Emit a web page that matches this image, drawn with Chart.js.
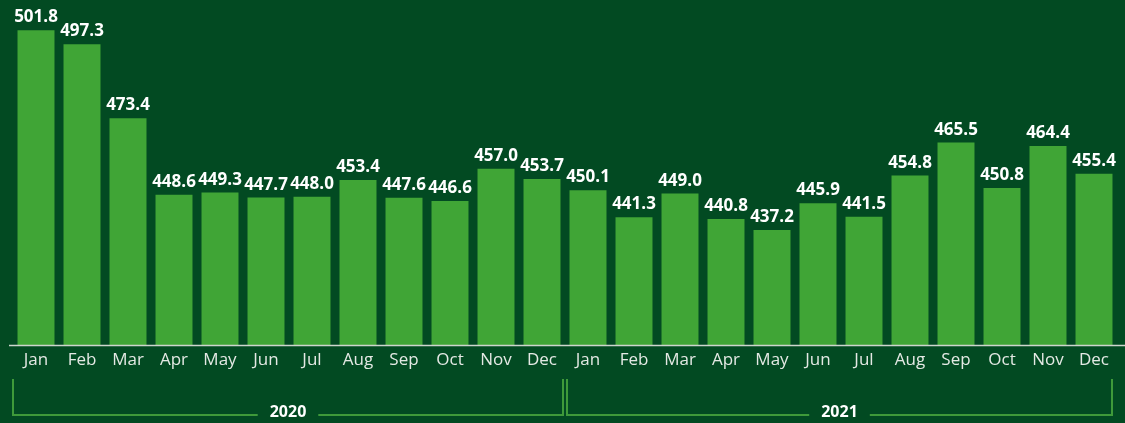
<!DOCTYPE html>
<html>
<head>
<meta charset="utf-8">
<script src="https://cdn.jsdelivr.net/npm/chart.js@4"></script>
<style>
  html, body { margin: 0; padding: 0; background: #024a22; }
  #wrap { width: 1125px; height: 423px; position: relative; }
</style>
</head>
<body>
<div id="wrap"><canvas id="cv"></canvas></div>
<script>
// chart data
var months = ["Jan", "Feb", "Mar", "Apr", "May", "Jun", "Jul", "Aug", "Sep", "Oct", "Nov", "Dec"];
var years = ["2020", "2021"];
var values2020 = [501.8, 497.3, 473.4, 448.6, 449.3, 447.7, 448.0, 453.4, 447.6, 446.6, 457.0, 453.7];
var values2021 = [450.1, 441.3, 449.0, 440.8, 437.2, 445.9, 441.5, 454.8, 465.5, 450.8, 464.4, 455.4];

var labels = months.concat(months);
var values = values2020.concat(values2021);

var barColor = "#40a536";
var bracketColor = "#3f9a3a";

// draws the axis line, value labels and the year brackets
var overlay = {
    id: "overlay",
    afterDatasetsDraw: function (chart) {
        var ctx = chart.ctx;
        var area = chart.chartArea;
        var xs = chart.scales.x;
        var step = xs.width / labels.length;

        ctx.save();
        // axis line
        ctx.strokeStyle = "#cdd5cd";
        ctx.lineWidth = 1.5;
        ctx.beginPath();
        ctx.moveTo(area.left - 4, area.bottom + 0.5);
        ctx.lineTo(chart.width, area.bottom + 0.5);
        ctx.stroke();

        // value labels over bars
        var meta = chart.getDatasetMeta(0);
        ctx.font = "bold 17px 'Open Sans'";
        ctx.fillStyle = "#ffffff";
        ctx.textAlign = "center";
        ctx.textBaseline = "alphabetic";
        meta.data.forEach(function (bar, i) {
            ctx.fillText(values[i].toFixed(1), bar.x, bar.y - 8);
        });

        // year brackets
        var top = area.bottom + 34;
        var bot = area.bottom + 70;
        ctx.strokeStyle = bracketColor;
        ctx.lineWidth = 2;
        ctx.font = "bold 16px 'Open Sans'";
        years.forEach(function (yr, k) {
            var first = k * months.length;
            var last = first + months.length - 1;
            var l = xs.getPixelForValue(first) - step / 2 + (k ? 2 : 0);
            var r = xs.getPixelForValue(last) + step / 2 - (k ? 5 : 2);
            var mid = (l + r) / 2;
            var half = ctx.measureText(yr).width / 2 + 12;
            ctx.beginPath();
            ctx.moveTo(l, top);
            ctx.lineTo(l, bot);
            ctx.lineTo(mid - half, bot);
            ctx.moveTo(mid + half, bot);
            ctx.lineTo(r, bot);
            ctx.lineTo(r, top);
            ctx.stroke();
            ctx.fillText(yr, mid, bot + 2);
        });
        ctx.restore();
    }
};

new Chart(document.getElementById("cv"), {
    type: "bar",
    data: {
        labels: labels,
        datasets: [{
            data: values,
            backgroundColor: barColor,
            borderWidth: 0,
            barPercentage: 0.804,
            categoryPercentage: 1
        }]
    },
    options: {
        responsive: true,
        maintainAspectRatio: false,
        animation: false,
        layout: { padding: { top: 5, left: 13, right: 8, bottom: 0 } },
        plugins: { legend: { display: false }, tooltip: { enabled: false } },
        scales: {
            x: {
                grid: { display: false },
                border: { display: false },
                ticks: {
                    color: "#e4e9e4",
                    font: { family: "'Open Sans'", size: 17 },
                    padding: -3,
                    maxRotation: 0,
                    autoSkip: false
                },
                afterFit: function (scale) { scale.height = 78; }
            },
            y: {
                display: false,
                min: 400,
                max: 510
            }
        }
    },
    plugins: [overlay]
});
</script>
</body>
</html>
